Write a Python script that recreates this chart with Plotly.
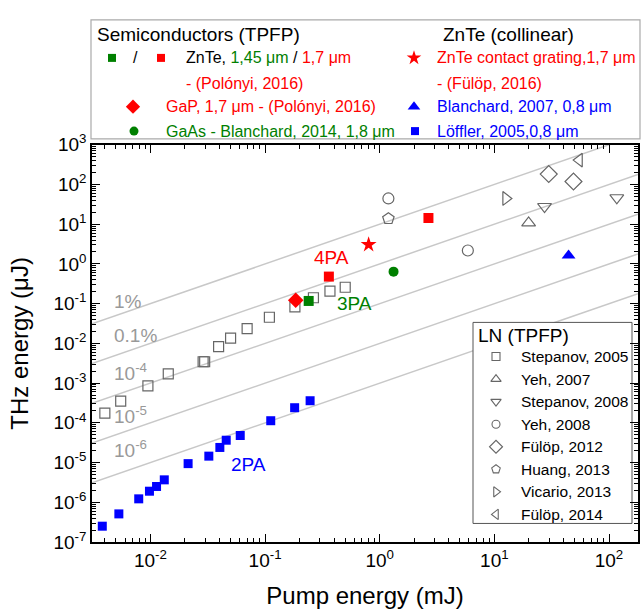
import plotly.graph_objects as go

# ---------------- data (pump energy mJ, THz energy uJ) ----------------
loffler_x = [0.0038, 0.0053, 0.0079, 0.0098, 0.0113, 0.0132, 0.0213, 0.0323, 0.0403, 0.0458, 0.0607, 0.112, 0.181, 0.247]
loffler_y = [2.5e-7, 5.1e-7, 1.22e-6, 1.9e-6, 2.5e-6, 3.67e-6, 9.4e-6, 1.45e-5, 2.4e-5, 3.65e-5, 4.8e-5, 1.13e-4, 2.4e-4, 3.6e-4]

stepanov05_x = [0.0040, 0.0055, 0.0095, 0.0143, 0.0288, 0.0297, 0.0393, 0.050, 0.0697, 0.109, 0.182, 0.264, 0.368, 0.50]
stepanov05_y = [1.75e-4, 3.5e-4, 8.5e-4, 1.71e-3, 3.45e-3, 3.45e-3, 8.3e-3, 0.0136, 0.0236, 0.0455, 0.0834, 0.141, 0.206, 0.259]

yeh07_x = [19.9]
yeh07_y = [10.8]
stepanov08_x = [27.4, 117]
stepanov08_y = [27.9, 46.3]
yeh08_x = [1.19, 5.87]
yeh08_y = [44.5, 2.18]
fulop12_x = [29.8, 49]
fulop12_y = [183, 119]
huang13_x = [1.19]
huang13_y = [13.8]
vicario13_x = [12.6]
vicario13_y = [44.5]
fulop14_x = [55]
fulop14_y = [411]

znte145_x = [0.24]
znte145_y = [0.117]
znte17_x = [0.36, 2.66]
znte17_y = [0.48, 14.4]
gap_x = [0.185]
gap_y = [0.122]
gaas_x = [1.32]
gaas_y = [0.64]
znte_cg_x = [0.80]
znte_cg_y = [3.06]
blanchard07_x = [44.4]
blanchard07_y = [1.64]

efficiencies = [1e-2, 1e-3, 1e-4, 1e-5, 1e-6]
eff_labels = ["1%", "0.1%", "10<sup>-4</sup>", "10<sup>-5</sup>", "10<sup>-6</sup>"]

x_tick_vals = [1e-2, 1e-1, 1, 10, 100]
x_tick_text = ["10<sup>-2</sup>", "10<sup>-1</sup>", "10<sup>0</sup>", "10<sup>1</sup>", "10<sup>2</sup>"]
y_tick_vals = [10.0 ** k for k in range(-7, 4)]
y_tick_text = ["10<sup>%d</sup>" % k for k in range(-7, 4)]

# ---------------- styling ----------------
FONT = "Liberation Sans, Arial, sans-serif"
RED = "#ff0000"
GREEN = "#008000"
BLUE = "#0000ff"
GRAY = "#666666"
W, H = 644, 613
ML, MR, MB = 92, 6, 71
PW = W - ML - MR
PH = H - MB
X_RANGE = [-2.51, 2.253]
Y_RANGE = [-7, 3]
PLOT_TOP = 135


def px_x(px):
    return (px - ML) / PW


def px_y(py):
    return (PH - py) / PH


fig = go.Figure()

# efficiency lines
lx = [10 ** X_RANGE[0], 10 ** X_RANGE[1]]
for e in efficiencies:
    fig.add_trace(go.Scatter(x=lx, y=[e * 1000 * v for v in lx], mode="lines",
                             line=dict(color="#c8c8c8", width=1.5),
                             showlegend=False, hoverinfo="skip"))

ln_series = [
    ("Stepanov, 2005", stepanov05_x, stepanov05_y, "square-open", 10),
    ("Yeh, 2007", yeh07_x, yeh07_y, "triangle-up-open", 12),
    ("Stepanov, 2008", stepanov08_x, stepanov08_y, "triangle-down-open", 12),
    ("Yeh, 2008", yeh08_x, yeh08_y, "circle-open", 11),
    ("Fülöp, 2012", fulop12_x, fulop12_y, "diamond-open", 13),
    ("Huang, 2013", huang13_x, huang13_y, "pentagon-open", 12),
    ("Vicario, 2013", vicario13_x, vicario13_y, "triangle-right-open", 12),
    ("Fülöp, 2014", fulop14_x, fulop14_y, "triangle-left-open", 12),
]
for name, xs, ys, sym, sz in ln_series:
    fig.add_trace(go.Scatter(x=xs, y=ys, mode="markers", name=name, showlegend=False,
                             marker=dict(symbol=sym, size=sz, color=GRAY,
                                         line=dict(color=GRAY, width=1.2))))

filled = [
    (loffler_x, loffler_y, "square", 9, BLUE),
    (gap_x, gap_y, "diamond", 12, RED),
    (znte145_x, znte145_y, "square", 10, GREEN),
    (znte17_x, znte17_y, "square", 10, RED),
    (gaas_x, gaas_y, "circle", 10, GREEN),
    (znte_cg_x, znte_cg_y, "star", 12, RED),
    (blanchard07_x, blanchard07_y, "triangle-up", 12, BLUE),
]
for xs, ys, sym, sz, col in filled:
    fig.add_trace(go.Scatter(x=xs, y=ys, mode="markers", showlegend=False,
                             marker=dict(symbol=sym, size=sz, color=col, line=dict(width=0))))

# ---------------- top legend (separate subplot in pixel units) ----------------
key_markers = [
    (112, 46, "square", 8, GREEN),
    (161, 46, "square", 8, RED),
    (133, 96, "diamond", 11, RED),
    (134, 121, "circle", 9, GREEN),
    (414, 46, "star", 11, RED),
    (414, 96, "triangle-up", 11, BLUE),
    (415, 121, "square", 8, BLUE),
]
for kx, ky, sym, sz, col in key_markers:
    fig.add_trace(go.Scatter(x=[kx], y=[ky], xaxis="x2", yaxis="y2", mode="markers",
                             showlegend=False, hoverinfo="skip",
                             marker=dict(symbol=sym, size=sz, color=col, line=dict(width=0))))

# ---------------- LN legend (overlay axes in pixel units) ----------------
LN_BOX = dict(x0=473, x1=632, y0=317, y1=523)
LN_KEY_X, LN_TEXT_X, LN_Y0, LN_DY = 496, 519, 352, 23.1
fig.add_trace(go.Scatter(
    x=[LN_BOX["x0"], LN_BOX["x1"], LN_BOX["x1"], LN_BOX["x0"], LN_BOX["x0"]],
    y=[LN_BOX["y0"], LN_BOX["y0"], LN_BOX["y1"], LN_BOX["y1"], LN_BOX["y0"]],
    xaxis="x3", yaxis="y3", mode="lines", fill="toself", fillcolor="white",
    line=dict(color="#555555", width=1), showlegend=False, hoverinfo="skip"))
for i, (name, xs, ys, sym, sz) in enumerate(ln_series):
    fig.add_trace(go.Scatter(x=[LN_KEY_X], y=[LN_Y0 + i * LN_DY], xaxis="x3", yaxis="y3",
                             mode="markers", showlegend=False, hoverinfo="skip",
                             marker=dict(symbol=sym, size=max(sz - 3, 8), color=GRAY,
                                         line=dict(color=GRAY, width=1.1))))

annotations = []


def txt(x, y, text, size=16, color="black"):
    annotations.append(dict(x=px_x(x), y=px_y(y), xref="paper", yref="paper", text=text,
                            showarrow=False, xanchor="left", yanchor="middle",
                            font=dict(family=FONT, size=size, color=color)))


txt(95, 22, "Semiconductors (TPFP)", 19)
txt(441, 22, "ZnTe (collinear)", 19)
txt(131, 46, "/", 16)
txt(184, 46, "ZnTe, <span style='color:%s'>1,45 μm</span> / <span style='color:%s'>1,7 μm</span>" % (GREEN, RED), 16)
txt(184, 72, "- (Polónyi, 2016)", 16, RED)
txt(164, 96, "GaP, 1,7 μm - (Polónyi, 2016)", 16, RED)
txt(164, 121, "GaAs - Blanchard, 2014, 1,8 μm", 16, GREEN)
txt(435, 46, "ZnTe contact grating,1,7 μm", 16, RED)
txt(435, 72, "- (Fülöp, 2016)", 16, RED)
txt(435, 96, "Blanchard, 2007, 0,8 μm", 16, BLUE)
txt(435, 121, "Löffler, 2005,0,8 μm", 16, BLUE)

# LN legend texts
txt(476, 330, "LN (TPFP)", 19)
for i, (name, xs, ys, sym, sz) in enumerate(ln_series):
    txt(LN_TEXT_X, LN_Y0 + i * LN_DY, name, 15.5)

# efficiency labels
eff_label_pos = [(112, 296), (112, 330), (112, 368), (112, 412), (112, 447)]
for (ex, ey), lab in zip(eff_label_pos, eff_labels):
    txt(ex, ey, lab, 19, "#999999")

# absorption labels
txt(312, 250, "4PA", 19, RED)
txt(335, 298, "3PA", 19, GREEN)
txt(229, 463, "2PA", 19, BLUE)

shapes = [
    dict(type="rect", xref="paper", yref="paper",
         x0=px_x(91), x1=px_x(640), y0=px_y(129), y1=px_y(7),
         line=dict(color="#aaaaaa", width=1.2), fillcolor="rgba(0,0,0,0)"),
]

axis_common = dict(type="log", showline=True, linecolor="black", linewidth=1.5,
                   mirror="allticks", ticks="inside", ticklen=8, tickwidth=1.2,
                   tickcolor="black", showgrid=False, zeroline=False,
                   tickfont=dict(family=FONT, size=19, color="black"),
                   minor=dict(ticks="inside", ticklen=4, tickwidth=1, tickcolor="black",
                              dtick="D1", showgrid=False))

fig.update_layout(
    width=W, height=H,
    margin=dict(l=ML, r=MR, t=0, b=MB),
    paper_bgcolor="white", plot_bgcolor="white",
    font=dict(family=FONT, color="black"),
    showlegend=False,
    xaxis=dict(range=X_RANGE, tickmode="array", tickvals=x_tick_vals, ticktext=x_tick_text,
               domain=[0, 1], anchor="y",
               title=dict(text="Pump energy (mJ)", font=dict(family=FONT, size=24), standoff=18),
               **axis_common),
    yaxis=dict(range=Y_RANGE, tickmode="array", tickvals=y_tick_vals, ticktext=y_tick_text,
               domain=[0, px_y(PLOT_TOP)], anchor="x",
               title=dict(text="THz energy (μJ)", font=dict(family=FONT, size=24), standoff=18),
               **axis_common),
    xaxis2=dict(range=[ML, W - MR], domain=[0, 1], anchor="y2", visible=False, fixedrange=True),
    yaxis2=dict(range=[130, 0], domain=[px_y(130), 1], anchor="x2", visible=False, fixedrange=True),
    xaxis3=dict(range=[ML, W - MR], overlaying="x", anchor="y3", visible=False, fixedrange=True),
    yaxis3=dict(range=[PH, PLOT_TOP], overlaying="y", anchor="x3", visible=False, fixedrange=True),
    annotations=annotations,
    shapes=shapes,
)

fig.write_html("out.html")
